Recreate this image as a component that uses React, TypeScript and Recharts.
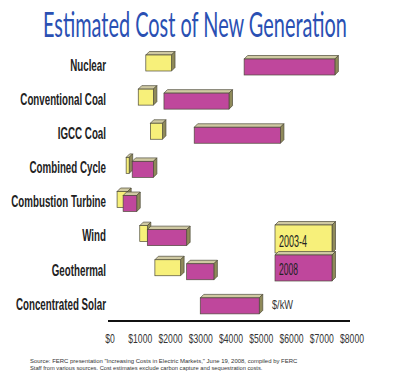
import React, { useLayoutEffect, useRef, useState } from 'react';
import { BarChart, Bar, XAxis, YAxis, Legend } from 'recharts';

const categories = [
  'Nuclear',
  'Conventional Coal',
  'IGCC Coal',
  'Combined Cycle',
  'Combustion Turbine',
  'Wind',
  'Geothermal',
  'Concentrated Solar',
];
const cost2003Low: (number | null)[] = [1250, 1000, 1400, 600, 300, 1050, 1550, null];
const cost2003High: (number | null)[] = [2100, 1500, 1800, 700, 650, 1300, 2400, null];
const cost2008Low = [4500, 1850, 2850, 800, 500, 1300, 2600, 3050];
const cost2008High = [7500, 4000, 5700, 1500, 950, 2600, 3500, 5000];
const xTicks = [0, 1000, 2000, 3000, 4000, 5000, 6000, 7000, 8000];
const seriesNames = ['2003-4', '2008'];

const data = categories.map((name, i) => ({
  name,
  y2003:
    cost2003Low[i] == null || cost2003High[i] == null
      ? null
      : [cost2003Low[i], cost2003High[i]],
  y2008: [cost2008Low[i], cost2008High[i]],
}));

const YELLOW = '#f7f07a';
const MAGENTA = '#bf479c';
const EDGE = '#4d4b3a';
const TOP_FACE = '#cfc9a2';
const SIDE_FACE = '#8f8a5a';
const D = 3.5;

const FitText = (props: any) => {
  const { x, y, width, children, ...rest } = props;
  const ref = useRef<SVGTextElement>(null);
  const [s, setS] = useState(1);
  useLayoutEffect(() => {
    if (ref.current) {
      const w = ref.current.getComputedTextLength();
      if (w > 0) setS(width / w);
    }
  }, [width]);
  return (
    <text ref={ref} transform={`translate(${x},${y}) scale(${s},1)`} {...rest}>
      {children}
    </text>
  );
};

const Box3D = (props: any) => {
  const { x, y, width, height, fill } = props;
  if (width == null || height == null || width <= 0 || height <= 0) return null;
  const top = `${x},${y} ${x + D},${y - D} ${x + width + D},${y - D} ${x + width},${y}`;
  const side = `${x + width},${y} ${x + width + D},${y - D} ${x + width + D},${y + height - D} ${x + width},${y + height}`;
  return (
    <g>
      <polygon points={top} fill={TOP_FACE} stroke={EDGE} strokeWidth={0.7} />
      <polygon points={side} fill={SIDE_FACE} stroke={EDGE} strokeWidth={0.7} />
      <rect x={x} y={y} width={width} height={height} fill={fill} stroke={EDGE} strokeWidth={0.7} />
    </g>
  );
};

const CategoryTick = (props: any) => {
  const { y, payload } = props;
  return (
    <text
      transform={`translate(106,${y}) scale(0.61,1)`}
      textAnchor="end"
      dy="0.36em"
      fontFamily="'Liberation Sans', Arial, sans-serif"
      fontWeight={700}
      fontSize={16}
      fill="#222"
    >
      {payload.value}
    </text>
  );
};

const ValueTick = (props: any) => {
  const { x, y, payload } = props;
  return (
    <text
      transform={`translate(${x + 2},${y + 14}) scale(0.69,1)`}
      textAnchor="middle"
      fontFamily="'Liberation Sans', Arial, sans-serif"
      fontSize={12.5}
      fill="#333"
    >
      {`$${payload.value}`}
    </text>
  );
};

const LegendBoxes = () => {
  const items = [
    { label: seriesNames[0], fill: YELLOW, y: 7, h: 28, tl: 28 },
    { label: seriesNames[1], fill: MAGENTA, y: 37, h: 26, tl: 19 },
  ];
  return (
    <svg width={70} height={70} style={{ overflow: 'visible' }}>
      {items.map((it) => (
        <g key={it.label}>
          <Box3D x={5} y={it.y} width={57} height={it.h} fill={it.fill} />
          <FitText
            x={9}
            y={it.y + it.h - 6}
            width={it.tl}
            fontFamily="'Liberation Sans', Arial, sans-serif"
            fontSize={17}
            fill="#222"
          >
            {it.label}
          </FitText>
        </g>
      ))}
    </svg>
  );
};

export default function App() {
  return (
    <div style={{ position: 'absolute', left: 0, top: 0, width: 400, height: 388, background: '#fff' }}>
      <BarChart
        width={400}
        height={388}
        data={data}
        layout="vertical"
        margin={{ top: 48, right: 50, bottom: 37, left: 0 }}
        barSize={16}
        barGap={-12}
      >
        <XAxis
          type="number"
          domain={[0, 8000]}
          ticks={xTicks}
          interval={0}
          height={30}
          axisLine={{ stroke: '#111', strokeWidth: 2 }}
          tickLine={false}
          tick={<ValueTick />}
        />
        <YAxis
          type="category"
          dataKey="name"
          width={108}
          axisLine={false}
          tickLine={false}
          interval={0}
          tick={<CategoryTick />}
        />
        <Legend
          layout="horizontal"
          verticalAlign="middle"
          align="center"
          content={<LegendBoxes />}
          wrapperStyle={{ left: 270, top: 218, width: 70, height: 70 }}
        />
        <Bar dataKey="y2003" name={seriesNames[0]} fill={YELLOW} shape={<Box3D />} isAnimationActive={false} />
        <Bar dataKey="y2008" name={seriesNames[1]} fill={MAGENTA} shape={<Box3D />} isAnimationActive={false} />
      </BarChart>
      <svg
        width={400}
        height={388}
        style={{ position: 'absolute', left: 0, top: 0, pointerEvents: 'none' }}
      >
        <FitText
          x={43}
          y={37}
          width={304}
          fontFamily="Lato, 'Open Sans', sans-serif"
          fontSize={35}
          fill="#2a50b3"
        >
          Estimated Cost of New Generation
        </FitText>
        <FitText
          x={272}
          y={309}
          width={21}
          fontFamily="'Liberation Sans', Arial, sans-serif"
          fontSize={13}
          fill="#333"
        >
          $/kW
        </FitText>
        <FitText
          x={30}
          y={363}
          width={268}
          fontFamily="'Liberation Sans', Arial, sans-serif"
          fontSize={6}
          fill="#333"
        >
          Source: FERC presentation "Increasing Costs in Electric Markets," June 19, 2008, compiled by FERC
        </FitText>
        <FitText
          x={30}
          y={370}
          width={233}
          fontFamily="'Liberation Sans', Arial, sans-serif"
          fontSize={6}
          fill="#333"
        >
          Staff from various sources. Cost estimates exclude carbon capture and sequestration costs.
        </FitText>
      </svg>
    </div>
  );
}
